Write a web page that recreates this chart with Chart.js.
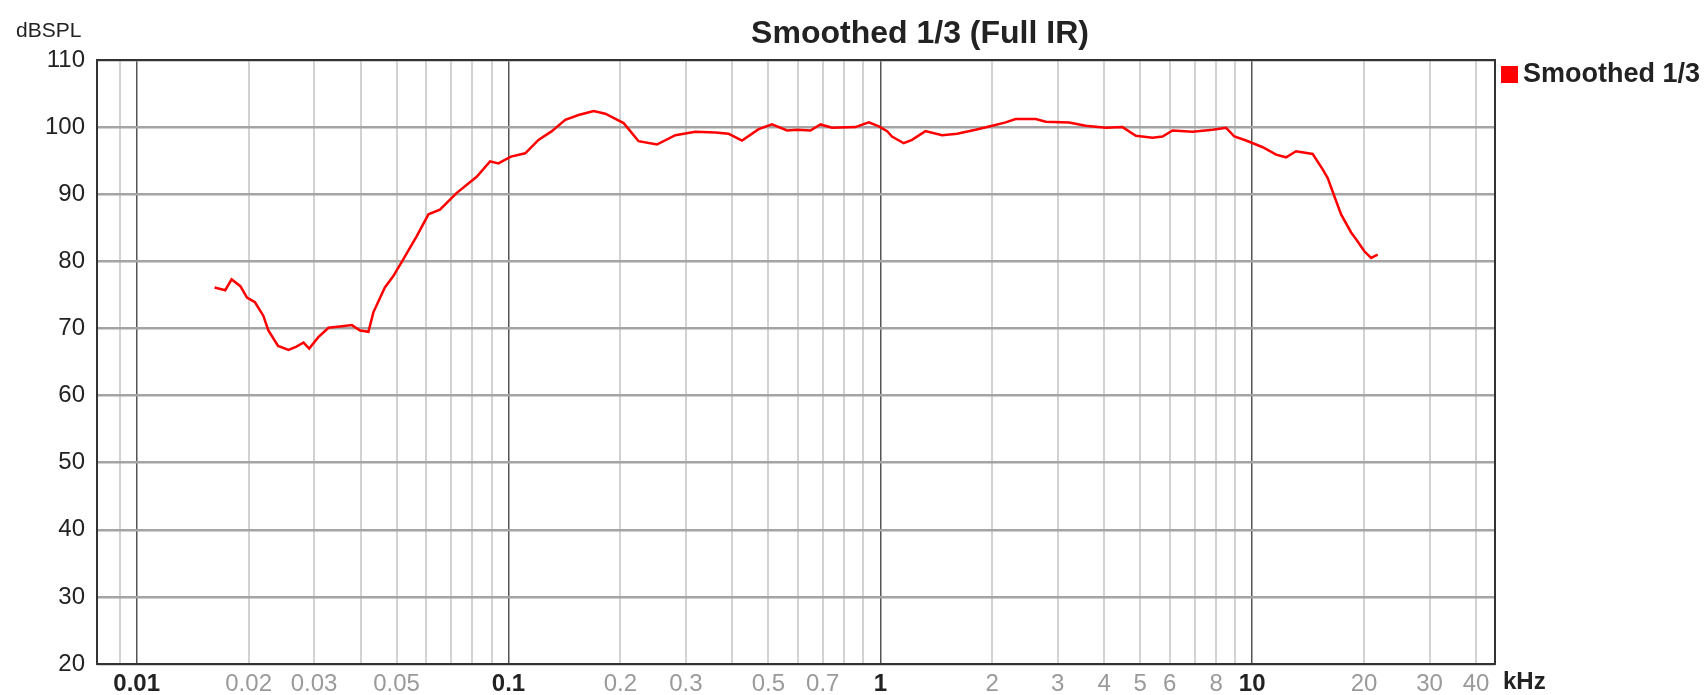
<!DOCTYPE html>
<html>
<head>
<meta charset="utf-8">
<script src="https://cdn.jsdelivr.net/npm/chart.js@4.4.1/dist/chart.umd.min.js"></script>
<style>
  html, body { margin: 0; padding: 0; background: #fff; }
  #wrap { width: 1708px; height: 695px; position: relative; }
</style>
</head>
<body>
<div id="wrap"><canvas id="chart"></canvas></div>
<script>
// Frequency response (kHz / dB SPL)
const freqs = [
  0.0162, 0.0173, 0.0180, 0.0190, 0.0198, 0.0208, 0.0219, 0.0226, 0.0240, 0.0256,
  0.0269, 0.0281, 0.0291, 0.0308, 0.0328, 0.0352, 0.0379, 0.0399, 0.0420, 0.0433,
  0.0465, 0.0490, 0.0521, 0.0567, 0.0609, 0.0654, 0.0726, 0.0821, 0.0892, 0.0939,
  0.1015, 0.1109, 0.1204, 0.1308, 0.1421, 0.1543, 0.1694, 0.1821, 0.2040, 0.2126,
  0.2238, 0.2507, 0.2810, 0.3181, 0.3601, 0.3910, 0.4246, 0.4709, 0.5112, 0.5613,
  0.5970, 0.6487, 0.6902, 0.7418, 0.8574, 0.9311, 0.9908, 1.043, 1.075, 1.156,
  1.217, 1.322, 1.466, 1.609, 1.804, 2.000, 2.173, 2.311, 2.617, 2.785,
  3.218, 3.569, 4.042, 4.480, 4.868, 5.397, 5.741, 6.109, 6.918, 7.832,
  8.511, 8.962, 9.634, 10.68, 11.60, 12.34, 13.13, 14.55, 15.48, 15.97,
  16.64, 17.35, 18.46, 19.04, 20.04, 20.89, 21.76
];
const spl = [
  76.1, 75.7, 77.3, 76.3, 74.6, 73.9, 71.9, 69.7, 67.4, 66.8,
  67.3, 67.9, 67.0, 68.7, 70.1, 70.3, 70.5, 69.7, 69.5, 72.4,
  76.1, 77.8, 80.3, 83.8, 87.0, 87.7, 90.2, 92.6, 94.9, 94.6,
  95.6, 96.1, 98.1, 99.4, 101.1, 101.8, 102.4, 102.0, 100.6, 99.4,
  97.9, 97.4, 98.8, 99.3, 99.2, 99.0, 98.0, 99.7, 100.4, 99.5,
  99.6, 99.5, 100.4, 99.9, 100.0, 100.7, 100.1, 99.4, 98.6, 97.6,
  98.1, 99.4, 98.8, 99.0, 99.6, 100.2, 100.7, 101.2, 101.2, 100.8,
  100.7, 100.2, 99.9, 100.0, 98.7, 98.4, 98.6, 99.5, 99.3, 99.6,
  99.9, 98.6, 98.0, 97.0, 95.9, 95.5, 96.4, 96.0, 93.7, 92.4,
  89.7, 87.0, 84.3, 83.3, 81.5, 80.5, 81.0
];

// x grid lines and which of them get a label
const xGrid = [
  0.009,
  0.01, 0.02, 0.03, 0.04, 0.05, 0.06, 0.07, 0.08, 0.09,
  0.1, 0.2, 0.3, 0.4, 0.5, 0.6, 0.7, 0.8, 0.9,
  1, 2, 3, 4, 5, 6, 7, 8, 9,
  10, 20, 30, 40
];
const xLabels = [0.01, 0.02, 0.03, 0.05, 0.1, 0.2, 0.3, 0.5, 0.7, 1, 2, 3, 4, 5, 6, 8, 10, 20, 30, 40];
const decades = [0.01, 0.1, 1, 10];

const FONT = '"Liberation Sans", Arial, sans-serif';
Chart.defaults.font.family = FONT;

// title, axis captions, legend and frame
const decorations = {
  id: 'decorations',
  afterDatasetsDraw(chart) {
    const { ctx, chartArea: a } = chart;
    ctx.save();
    ctx.strokeStyle = '#333';
    ctx.lineWidth = 2;
    ctx.strokeRect(a.left, a.top, a.right - a.left, a.bottom - a.top);
    ctx.restore();
  },
  afterDraw(chart) {
    const { ctx, chartArea: a } = chart;
    ctx.save();
    ctx.fillStyle = '#222';
    ctx.textBaseline = 'middle';

    ctx.font = 'bold 32px ' + FONT;
    ctx.textAlign = 'center';
    ctx.fillText('Smoothed 1/3 (Full IR)', 920, 34);

    ctx.font = '21px ' + FONT;
    ctx.textAlign = 'left';
    ctx.fillText('dBSPL', 16, 31);

    ctx.font = 'bold 24px ' + FONT;
    ctx.fillText('kHz', a.right + 8, 682);

    // legend
    const ds = chart.data.datasets[0];
    ctx.fillStyle = ds.borderColor;
    ctx.fillRect(a.right + 6, 66, 17, 17);
    ctx.fillStyle = '#222';
    ctx.font = 'bold 27px ' + FONT;
    ctx.fillText(ds.label, a.right + 28, 75);
    ctx.restore();
  }
};

new Chart(document.getElementById('chart'), {
  type: 'line',
  data: {
    datasets: [{
      label: 'Smoothed 1/3',
      data: freqs.map((f, i) => ({ x: f, y: spl[i] })),
      borderColor: '#ff0000',
      borderWidth: 2.5,
      pointRadius: 0,
      tension: 0,
      fill: false
    }]
  },
  options: {
    responsive: true,
    maintainAspectRatio: false,
    animation: false,
    layout: { padding: { left: 0, right: 213, top: 60, bottom: 0 } },
    plugins: {
      legend: { display: false },
      title: { display: false },
      tooltip: { enabled: false }
    },
    scales: {
      x: {
        type: 'logarithmic',
        min: 0.00782,
        max: 45,
        afterBuildTicks: (scale) => {
          scale.ticks = xGrid.map(v => ({ value: v }));
        },
        afterFit: (scale) => { scale.height = 31; },
        border: { display: false },
        grid: {
          drawTicks: false,
          color: (c) => decades.includes(c.tick.value) ? '#555' : '#d2d2d2',
          lineWidth: (c) => decades.includes(c.tick.value) ? 1.5 : 2
        },
        ticks: {
          autoSkip: false,
          maxRotation: 0,
          padding: 6,
          callback: (v) => xLabels.includes(v) ? String(v) : '',
          color: (c) => decades.includes(c.tick.value) ? '#222' : '#9a9a9a',
          font: (c) => ({ size: 24, weight: decades.includes(c.tick.value) ? 'bold' : 'normal' })
        }
      },
      y: {
        min: 20,
        max: 110,
        afterFit: (scale) => { scale.width = 97; },
        border: { display: false },
        grid: { drawTicks: false, color: '#a4a4a4', lineWidth: 2.5 },
        ticks: {
          stepSize: 10,
          padding: 12,
          color: '#222',
          font: { size: 24 }
        }
      }
    }
  },
  plugins: [decorations]
});
</script>
</body>
</html>
